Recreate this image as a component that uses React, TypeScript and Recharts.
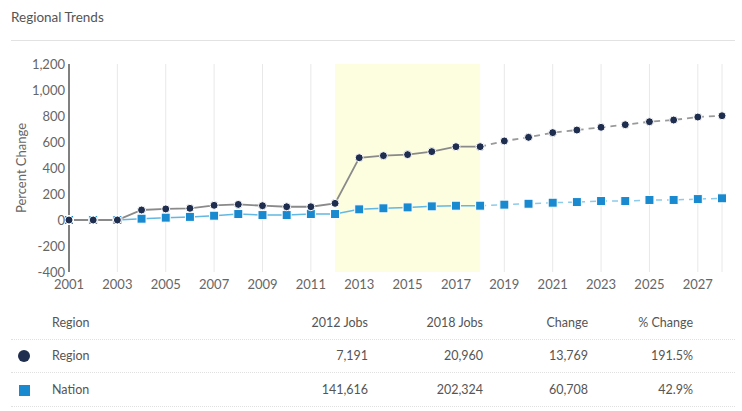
import React from 'react';
import { LineChart, Line, XAxis, YAxis, CartesianGrid, ReferenceArea, Label } from 'recharts';

const years = [
  2001, 2002, 2003, 2004, 2005, 2006, 2007, 2008, 2009, 2010, 2011, 2012, 2013, 2014,
  2015, 2016, 2017, 2018, 2019, 2020, 2021, 2022, 2023, 2024, 2025, 2026, 2027, 2028,
];
const regionValues = [
  0, 0, 0, 77, 85, 90, 113, 120, 110, 102, 102, 128, 479, 495,
  503, 526, 564, 564, 608, 636, 672, 692, 713, 733, 756, 769, 792, 802,
];
const nationValues = [
  0, 0, 0, 10, 18, 24, 33, 46, 38, 38, 46, 46, 82, 90,
  97, 105, 110, 110, 118, 125, 133, 138, 146, 146, 154, 154, 161, 167,
];
const lastActualYear = 2018;
const highlightStart = 2012;
const highlightEnd = 2018;
const xTicks = [2001, 2003, 2005, 2007, 2009, 2011, 2013, 2015, 2017, 2019, 2021, 2023, 2025, 2027];
const yTicks = [-400, -200, 0, 200, 400, 600, 800, 1000, 1200];

const tableHeaders = ['Region', '2012 Jobs', '2018 Jobs', 'Change', '% Change'];
const tableNames = ['Region', 'Nation'];
const jobs2012 = ['7,191', '141,616'];
const jobs2018 = ['20,960', '202,324'];
const jobsChange = ['13,769', '60,708'];
const pctChange = ['191.5%', '42.9%'];

const data = years.map((year, i) => ({
  year,
  regionActual: year <= lastActualYear ? regionValues[i] : null,
  regionForecast: year >= lastActualYear ? regionValues[i] : null,
  nationActual: year <= lastActualYear ? nationValues[i] : null,
  nationForecast: year >= lastActualYear ? nationValues[i] : null,
}));

const NAVY = '#1f2d4e';
const BLUE = '#1a8ad0';
const font = 'Lato, "Open Sans", sans-serif';

const SquareDot = (props: any) => {
  const { cx, cy, value } = props;
  if (value == null || cx == null) return null;
  return <rect x={cx - 4.5} y={cy - 4.5} width={9} height={9} fill={BLUE} stroke="#fff" strokeWidth={1} />;
};

const CircleDot = (props: any) => {
  const { cx, cy, value } = props;
  if (value == null || cx == null) return null;
  return <circle cx={cx} cy={cy} r={4} fill={NAVY} stroke="#fff" strokeWidth={1} />;
};

const rightEdges = [368, 483, 588, 693];

export default function App() {
  const rows = tableNames.map((name, i) => [name, jobs2012[i], jobs2018[i], jobsChange[i], pctChange[i]]);
  const rowY = [323, 356, 390];
  const lineY = [339, 372, 406];

  return (
    <div style={{ position: 'absolute', left: 0, top: 0, width: 742, height: 411, background: '#fff', fontFamily: font, color: '#555' }}>
      <div style={{ position: 'absolute', left: 11, top: 9, fontSize: 13.5, color: '#555' }}>Regional Trends</div>
      <div style={{ position: 'absolute', left: 11, top: 40, width: 724, height: 1, background: '#e2e2e2' }} />

      <div style={{ position: 'absolute', left: 0, top: 0 }}>
        <LineChart width={742} height={300} data={data} margin={{ top: 64, right: 20, bottom: 0, left: 0 }}>
          <ReferenceArea x1={highlightStart} x2={highlightEnd} fill="#fdfde0" fillOpacity={1} stroke="none" ifOverflow="visible" />
          <CartesianGrid horizontal={false} stroke="#e8e8e8" strokeWidth={1} />
          <XAxis
            dataKey="year"
            type="number"
            domain={[2001, 2028]}
            ticks={xTicks}
            axisLine={false}
            tickLine={false}
            tickSize={0}
            tickMargin={8}
            height={28}
            tick={{ fontSize: 13, fill: '#666', fontFamily: font }}
          />
          <YAxis
            type="number"
            domain={[-400, 1200]}
            ticks={yTicks}
            width={69}
            axisLine={{ stroke: '#333', strokeWidth: 1.2 }}
            tickLine={false}
            tickSize={0}
            tickMargin={4}
            tickFormatter={(v: number) => v.toLocaleString('en-US')}
            tick={{ fontSize: 13, fill: '#666', fontFamily: font }}
          >
            <Label value="Percent Change" angle={-90} position="insideLeft" offset={21} style={{ fontSize: 13, fill: '#666', fontFamily: font, textAnchor: 'middle' }} />
          </YAxis>
          <Line dataKey="nationActual" stroke="#62b8e2" strokeWidth={1.5} dot={<SquareDot />} isAnimationActive={false} connectNulls={false} />
          <Line dataKey="nationForecast" stroke="#8ccbea" strokeWidth={1.5} strokeDasharray="6 5" dot={<SquareDot />} isAnimationActive={false} connectNulls={false} />
          <Line dataKey="regionActual" stroke="#8a8a8a" strokeWidth={1.8} dot={<CircleDot />} isAnimationActive={false} connectNulls={false} />
          <Line dataKey="regionForecast" stroke="#9a9a9a" strokeWidth={1.8} strokeDasharray="6 5" dot={<CircleDot />} isAnimationActive={false} connectNulls={false} />
        </LineChart>
      </div>

      {lineY.map((y) => (
        <div key={y} style={{ position: 'absolute', left: 11, top: y, width: 724, height: 0, borderTop: '1px dotted #e0e0e0' }} />
      ))}
      {[tableHeaders, ...rows].map((row, r) => (
        <React.Fragment key={r}>
          <div style={{ position: 'absolute', left: 52, top: rowY[r] - 8, fontSize: 12.5, lineHeight: '16px' }}>{row[0]}</div>
          {row.slice(1).map((cell, c) => (
            <div key={c} style={{ position: 'absolute', left: rightEdges[c] - 120, width: 120, textAlign: 'right', top: rowY[r] - 8, fontSize: 12.5, lineHeight: '16px' }}>
              {cell}
            </div>
          ))}
        </React.Fragment>
      ))}
      <div style={{ position: 'absolute', left: 18, top: 350, width: 12, height: 12, borderRadius: 6, background: NAVY }} />
      <div style={{ position: 'absolute', left: 19, top: 385, width: 11, height: 11, background: BLUE }} />
    </div>
  );
}
